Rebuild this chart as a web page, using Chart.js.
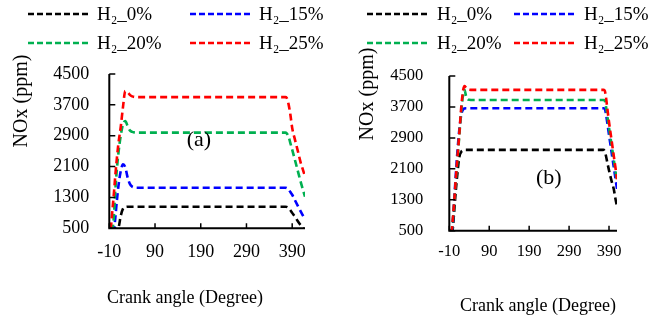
<!DOCTYPE html>
<html><head><meta charset="utf-8">
<script src="https://cdn.jsdelivr.net/npm/chart.js@4.4.1/dist/chart.umd.min.js"></script>
<style>
html,body{margin:0;padding:0;background:#fff;width:651px;height:322px;overflow:hidden;}
#wa{position:absolute;left:0;top:0;width:325px;height:322px;}
#wb{position:absolute;left:325px;top:0;width:326px;height:322px;}
canvas{display:block;}
</style></head><body>
<div id="wa"><canvas id="ca" width="325" height="322"></canvas></div>
<div id="wb"><canvas id="cb" width="326" height="322"></canvas></div>
<script>
// ---- labels ----
const seriesNames = ['H\u2082_0%', 'H\u2082_15%', 'H\u2082_20%', 'H\u2082_25%'];
const seriesColors = ['#000000', '#0000FF', '#00B050', '#FF0000'];
const xTicks = [-10, 90, 190, 290, 390];
const yTicks = [500, 1300, 2100, 2900, 3700, 4500];
const xTitle = 'Crank angle (Degree)';
const yTitle = 'NOx (ppm)';
const panelTags = ['(a)', '(b)'];

// ---- panel (a) ----
const anglesA = [-10, -7, -3, 0, 3, 6, 10, 15, 20, 25, 30, 35, 40, 45, 50, 375, 378, 382, 386, 390, 396, 402, 408, 412, 418];
const a_H0  = [500, 500, 500, 500, 500, 500, 520, 820, 1010, 1050, 1060, 1060, 1060, 1060, 1060, 1060, 1055, 1030, 970, 900, 800, 690, 590, 530, 450];
const a_H15 = [500, 500, 500, 500, 750, 1150, 1600, 1980, 2160, 2080, 1820, 1650, 1580, 1558, 1553, 1553, 1545, 1510, 1440, 1370, 1230, 1090, 950, 860, 730];
const a_H20 = [500, 500, 500, 800, 1450, 1950, 2450, 2900, 3200, 3280, 3150, 3040, 3000, 2985, 2980, 2980, 2960, 2880, 2710, 2540, 2270, 2000, 1730, 1560, 1320];
const a_H25 = [500, 520, 1000, 1400, 1850, 2250, 2700, 3130, 3650, 4060, 4030, 3960, 3920, 3905, 3900, 3900, 3880, 3720, 3450, 3100, 2800, 2520, 2230, 2070, 1850];

// ---- panel (b) ----
const anglesB = [-10, -4, -2, 0, 3, 6, 10, 15, 20, 25, 28, 32, 36, 40, 50, 376, 379, 382, 386, 390, 396, 402, 406, 410];
const b_H0  = [500, 500, 500, 700, 1100, 1500, 1950, 2400, 2540, 2580, 2588, 2590, 2590, 2590, 2590, 2590, 2560, 2450, 2250, 2060, 1800, 1570, 1330, 1130];
const b_H15 = [500, 500, 600, 900, 1400, 1900, 2500, 3100, 3500, 3640, 3660, 3668, 3668, 3668, 3668, 3668, 3660, 3540, 3270, 2980, 2560, 2140, 1860, 1580];
const b_H20 = [500, 500, 650, 900, 1300, 1750, 2280, 2950, 3600, 4050, 4140, 3980, 3900, 3885, 3880, 3880, 3870, 3740, 3450, 3160, 2750, 2330, 2050, 1760];
const b_H25 = [500, 500, 700, 950, 1350, 1800, 2330, 3000, 3700, 4150, 4240, 4200, 4160, 4145, 4140, 4140, 4130, 3980, 3640, 3310, 2870, 2430, 2140, 1830];

const FONT = '"Liberation Serif", "Times New Roman", serif';

function drawAxes(chart) {
  // axis lines and inward tick marks, placed by the chart's own scales
  const ctx = chart.ctx, xs = chart.scales.x, ys = chart.scales.y;
  const x0 = xs.getPixelForValue(xs.min), x1 = xs.getPixelForValue(xs.max);
  const y0 = ys.getPixelForValue(ys.min), y1 = ys.getPixelForValue(ys.max);
  ctx.save();
  ctx.setLineDash([]);
  ctx.globalAlpha = 1;
  ctx.strokeStyle = '#000000';
  ctx.lineWidth = 2;
  ctx.beginPath();
  ctx.moveTo(x0, y1);
  ctx.lineTo(x0, y0);
  ctx.lineTo(x1, y0);
  ctx.stroke();
  ctx.lineWidth = 1.5;
  ctx.beginPath();
  xs.ticks.forEach(t => { const px = xs.getPixelForValue(t.value); ctx.moveTo(px, y0); ctx.lineTo(px, y0 - 5); });
  ys.ticks.forEach(t => { const py = ys.getPixelForValue(t.value); ctx.moveTo(x0, py); ctx.lineTo(x0 + 6, py); });
  ctx.stroke();
  ctx.restore();
}

const overlay = {
  id: 'overlay',
  afterDraw(chart, args, o) {
    drawAxes(chart);
    const ctx = chart.ctx;
    ctx.save();
    // legend (2 x 2 grid)
    ctx.font = '19px ' + FONT;
    ctx.textBaseline = 'middle';
    ctx.textAlign = 'left';
    chart.data.datasets.forEach((ds, i) => {
      const col = i % 2, row = Math.floor(i / 2);
      const lx = o.legX[col], ly = o.legY[row];
      ctx.strokeStyle = ds.borderColor;
      ctx.lineWidth = 2.6;
      ctx.setLineDash([6, 3]);
      ctx.beginPath(); ctx.moveTo(lx, ly); ctx.lineTo(lx + o.legLen, ly); ctx.stroke();
      ctx.setLineDash([]);
      ctx.fillStyle = '#000';
      ctx.fillText(ds.label, lx + o.legLen + 7, ly + 1);
    });
    // axis titles
    ctx.fillStyle = '#000';
    ctx.textAlign = 'center';
    ctx.font = '18px ' + FONT;
    ctx.fillText(xTitle, o.xTitlePos[0], o.xTitlePos[1]);
    ctx.save();
    ctx.translate(o.yTitlePos[0], o.yTitlePos[1]);
    ctx.rotate(-Math.PI / 2);
    ctx.font = '20px ' + FONT;
    ctx.fillText(yTitle, 0, 0);
    ctx.restore();
    // panel tag placed in data space
    const xs = chart.scales.x, ys = chart.scales.y;
    ctx.font = '22px ' + FONT;
    ctx.fillText(o.tag, xs.getPixelForValue(o.tagAt[0]), ys.getPixelForValue(o.tagAt[1]));
    ctx.restore();
  }
};

function makeChart(id, cfg) {
  const order = [3, 2, 1, 0];
  return new Chart(document.getElementById(id), {
    type: 'line',
    data: {
      datasets: cfg.series.map((vals, i) => ({
        label: seriesNames[i],
        data: cfg.angles.map((a, k) => ({ x: a, y: vals[k] })),
        borderColor: seriesColors[i],
        backgroundColor: seriesColors[i],
        borderWidth: 2.6,
        borderDash: [7, 4],
        pointRadius: 0,
        fill: false,
        cubicInterpolationMode: 'monotone',
        order: order[i]
      }))
    },
    plugins: [overlay],
    options: {
      responsive: false,
      animation: false,
      layout: { padding: { left: 0, right: cfg.padR, top: cfg.padT, bottom: 0 } },
      plugins: {
        legend: { display: false },
        tooltip: { enabled: false },
        overlay: cfg.overlay
      },
      scales: {
        x: {
          type: 'linear', min: -10, max: cfg.xMax,
          afterBuildTicks: s => { s.ticks = xTicks.map(v => ({ value: v })); },
          afterFit: s => { s.height = cfg.xAxisH; },
          grid: { display: true, drawOnChartArea: false, drawTicks: true, tickLength: -5, tickWidth: 1.5, tickColor: 'rgba(0,0,0,0)' },
          border: { display: false },
          ticks: { color: '#000', font: { family: FONT, size: cfg.tickSize }, padding: cfg.xPad,
                   maxRotation: 0, autoSkip: false, callback: v => String(v) }
        },
        y: {
          type: 'linear', min: 500, max: 4500,
          afterBuildTicks: s => { s.ticks = yTicks.map(v => ({ value: v })); },
          afterFit: s => { s.width = cfg.yAxisW; },
          grid: { display: true, drawOnChartArea: false, drawTicks: true, tickLength: -6, tickWidth: 1.5, tickColor: 'rgba(0,0,0,0)' },
          border: { display: false },
          ticks: { color: '#000', font: { family: FONT, size: cfg.tickSize }, padding: cfg.yPad,
                   autoSkip: false, callback: v => String(v) }
        }
      }
    }
  });
}

makeChart('ca', {
  angles: anglesA, series: [a_H0, a_H15, a_H20, a_H25],
  xMax: 418, padR: 20, padT: 74, xAxisH: 93.7, yAxisW: 109.3,
  tickSize: 18, xPad: 18, yPad: 26,
  overlay: { legX: [28, 190], legY: [14, 43], legLen: 62,
             xTitlePos: [185, 298], yTitlePos: [21.5, 101],
             tag: panelTags[0], tagAt: [186, 2790] }
});

makeChart('cb', {
  angles: anglesB, series: [b_H0, b_H15, b_H20, b_H25],
  xMax: 410, padR: 34, padT: 76, xAxisH: 91.3, yAxisW: 124.3,
  tickSize: 16.5, xPad: 16, yPad: 32,
  overlay: { legX: [42, 189], legY: [14, 43], legLen: 63,
             xTitlePos: [213, 306], yTitlePos: [43, 94],
             tag: panelTags[1], tagAt: [239, 1863] }
});
</script>
</body></html>
